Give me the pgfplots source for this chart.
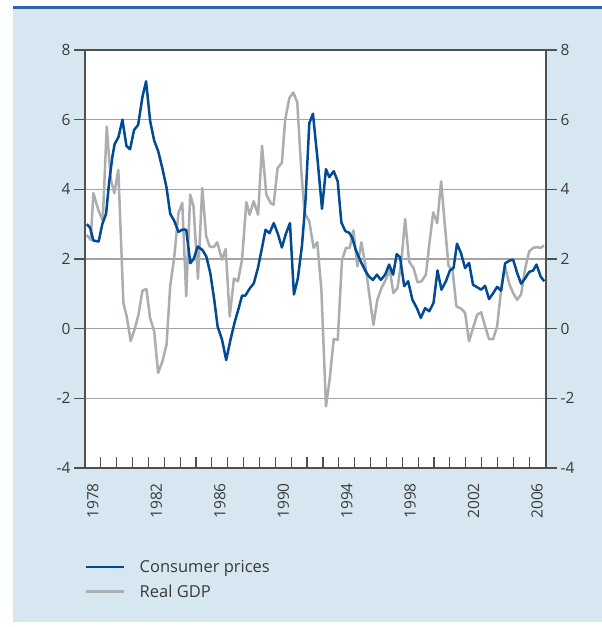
\documentclass[border=0pt]{standalone}
\usepackage{fontspec}
\setmainfont{Open Sans}
\usepackage{pgfplots}
\usepackage{pgfplotstable}
\pgfplotsset{compat=1.18}
\definecolor{bgblue}{HTML}{D6E7F1}
\definecolor{topline}{HTML}{2A64A6}
\definecolor{cpi}{HTML}{004B93}
\definecolor{gdp}{HTML}{ACADB0}
\definecolor{gridc}{HTML}{A3A3A3}
\definecolor{axc}{HTML}{505050}
\definecolor{txt}{HTML}{3A3A3A}

\pgfplotstableread{
x y
1978.11 3.0
1978.32 2.9
1978.53 2.53
1978.86 2.5
1979.09 3.0
1979.33 3.3
1979.52 4.2
1979.73 4.95
1979.87 5.3
1980.11 5.5
1980.36 6.0
1980.61 5.25
1980.84 5.15
1981.09 5.7
1981.35 5.85
1981.62 6.65
1981.85 7.1
1982.11 5.95
1982.36 5.4
1982.61 5.1
1982.88 4.6
1983.14 4.05
1983.37 3.3
1983.62 3.1
1983.89 2.78
1984.13 2.84
1984.38 2.84
1984.64 1.88
1984.85 2.0
1985.10 2.36
1985.40 2.26
1985.65 2.07
1985.90 1.59
1986.15 0.82
1986.36 0.06
1986.64 -0.32
1986.90 -0.9
1987.17 -0.32
1987.42 0.16
1987.69 0.59
1987.90 0.95
1988.11 0.95
1988.39 1.16
1988.64 1.3
1988.90 1.74
1989.13 2.26
1989.38 2.84
1989.63 2.74
1989.90 3.03
1990.16 2.72
1990.41 2.33
1990.66 2.72
1990.92 3.03
1991.17 0.98
1991.42 1.45
1991.68 2.4
1991.89 3.6
1992.14 5.9
1992.37 6.17
1992.66 4.85
1992.94 3.44
1993.19 4.58
1993.40 4.35
1993.68 4.52
1993.93 4.23
1994.16 3.05
1994.41 2.8
1994.66 2.75
1994.85 2.6
1995.07 2.26
1995.38 1.93
1995.70 1.64
1995.90 1.5
1996.15 1.4
1996.40 1.55
1996.65 1.4
1996.92 1.55
1997.17 1.84
1997.42 1.55
1997.65 2.14
1997.86 2.05
1998.12 1.22
1998.37 1.36
1998.64 0.83
1998.92 0.59
1999.17 0.31
1999.44 0.59
1999.70 0.5
1999.97 0.74
2000.22 1.67
2000.47 1.12
2000.75 1.36
2001.00 1.67
2001.23 1.74
2001.45 2.44
2001.70 2.17
2001.96 1.74
2002.21 1.89
2002.46 1.26
2002.72 1.19
2002.97 1.12
2003.22 1.23
2003.47 0.85
2003.73 1.02
2003.98 1.2
2004.23 1.09
2004.48 1.87
2004.74 1.95
2004.99 1.98
2005.24 1.6
2005.49 1.29
2005.75 1.45
2006.00 1.63
2006.25 1.67
2006.46 1.84
2006.72 1.5
2006.95 1.36
}\cpitable

\pgfplotstableread{
x y
1978.10 2.69
1978.36 2.55
1978.53 3.89
1978.84 3.41
1979.12 3.1
1979.37 5.8
1979.62 4.3
1979.85 3.89
1980.10 4.56
1980.42 0.74
1980.63 0.35
1980.88 -0.36
1981.14 0.0
1981.37 0.4
1981.62 1.09
1981.87 1.14
1982.10 0.31
1982.36 -0.07
1982.61 -1.27
1982.88 -0.94
1983.14 -0.46
1983.37 1.22
1983.62 2.03
1983.89 3.32
1984.13 3.61
1984.38 0.93
1984.63 3.85
1984.84 3.51
1985.12 1.43
1985.39 4.04
1985.64 2.65
1985.86 2.36
1986.11 2.34
1986.34 2.48
1986.63 1.98
1986.87 2.29
1987.12 0.35
1987.39 1.44
1987.64 1.36
1987.90 1.98
1988.17 3.63
1988.38 3.27
1988.63 3.66
1988.91 3.27
1989.16 5.25
1989.43 3.85
1989.71 3.6
1989.89 3.56
1990.14 4.61
1990.41 4.76
1990.62 6.0
1990.88 6.62
1991.13 6.78
1991.38 6.5
1991.63 4.56
1991.84 3.32
1992.14 3.08
1992.41 2.32
1992.64 2.48
1992.90 1.12
1993.19 -2.23
1993.42 -1.46
1993.68 -0.3
1993.93 -0.32
1994.20 1.96
1994.45 2.32
1994.69 2.32
1994.92 2.82
1995.17 1.79
1995.42 2.48
1995.70 1.74
1995.91 1.02
1996.18 0.11
1996.43 0.83
1996.69 1.17
1996.96 1.41
1997.21 1.69
1997.44 1.02
1997.70 1.17
1997.95 1.98
1998.18 3.15
1998.43 1.93
1998.71 1.74
1998.96 1.33
1999.21 1.36
1999.49 1.55
1999.70 2.41
1999.95 3.34
2000.20 3.03
2000.45 4.23
2000.69 2.94
2000.92 1.79
2001.17 1.69
2001.41 0.64
2001.73 0.57
2001.96 0.45
2002.21 -0.36
2002.46 0.02
2002.72 0.4
2002.97 0.47
2003.22 0.07
2003.47 -0.3
2003.73 -0.3
2003.98 0.07
2004.23 1.12
2004.48 1.79
2004.74 1.29
2004.99 1.02
2005.24 0.83
2005.49 0.98
2005.75 1.74
2006.00 2.22
2006.25 2.32
2006.50 2.34
2006.72 2.32
2006.93 2.39
}\gdptable

\begin{document}
\begin{tikzpicture}
\useasboundingbox (0pt,0pt) rectangle (602pt,627pt);
\fill[bgblue] (13pt,5pt) rectangle (602pt,620pt);
\fill[topline] (13pt,617.5pt) rectangle (602pt,620.5pt);
\begin{axis}[
  at={(85pt,159pt)}, anchor=south west,
  width=461pt, height=418pt, scale only axis,
  xmin=1978, xmax=2007.06, ymin=-4, ymax=8,
  axis background/.style={fill=white},
  axis line style={draw=axc, line width=1.4pt},
  ytick={-4,-2,...,8},
  ymajorgrids, grid style={draw=gridc, line width=1.2pt},
  ytick pos=both, ytick align=outside,
  xtick={1979,...,2006}, xticklabels={},
  xtick pos=bottom, xtick align=inside,
  major tick length=11pt,
  tick style={draw=axc, line width=1.2pt},
  extra x ticks={1978.5,1982.5,1986.5,1990.5,1994.5,1998.5,2002.5,2006.5},
  extra x tick labels={1978,1982,1986,1990,1994,1998,2002,2006},
  extra x tick style={major tick length=0pt, tick style={draw=none},
    xticklabel style={rotate=90, anchor=east, inner sep=0pt}},
  xticklabel shift=15pt,
  ticklabel style={font=\fontsize{15.5}{18}\selectfont, text=txt},
  /pgf/number format/assume math mode=true,
  legend style={at={(0,-0.215)}, anchor=north west, draw=none, fill=none,
    inner sep=0pt, font=\fontsize{16.5}{20}\selectfont, text=txt,
    row sep=7pt, /tikz/every odd column/.append style={column sep=12pt}},
  legend cell align=left,
  legend image code/.code={\draw[#1] (0pt,0pt) -- (38pt,0pt);},
  reverse legend,
]
\addplot[gdp, line width=2.5pt, line join=round] table[x=x,y=y] {\gdptable};
\addlegendentry{Real GDP}
\addplot[cpi, line width=2.5pt, line join=round] table[x=x,y=y] {\cpitable};
\addlegendentry{Consumer prices}
\end{axis}
\begin{axis}[
  at={(85pt,159pt)}, anchor=south west,
  width=461pt, height=418pt, scale only axis,
  xmin=1978, xmax=2007.06, ymin=-4, ymax=8,
  axis line style={draw=none},
  ytick={-4,-2,...,8}, ytick pos=right, yticklabel pos=right,
  ytick align=outside, major tick length=11pt,
  tick style={draw=none},
  xtick=\empty,
  ticklabel style={font=\fontsize{15.5}{18}\selectfont, text=txt},
  /pgf/number format/assume math mode=true,
]
\end{axis}
\end{tikzpicture}
\end{document}
